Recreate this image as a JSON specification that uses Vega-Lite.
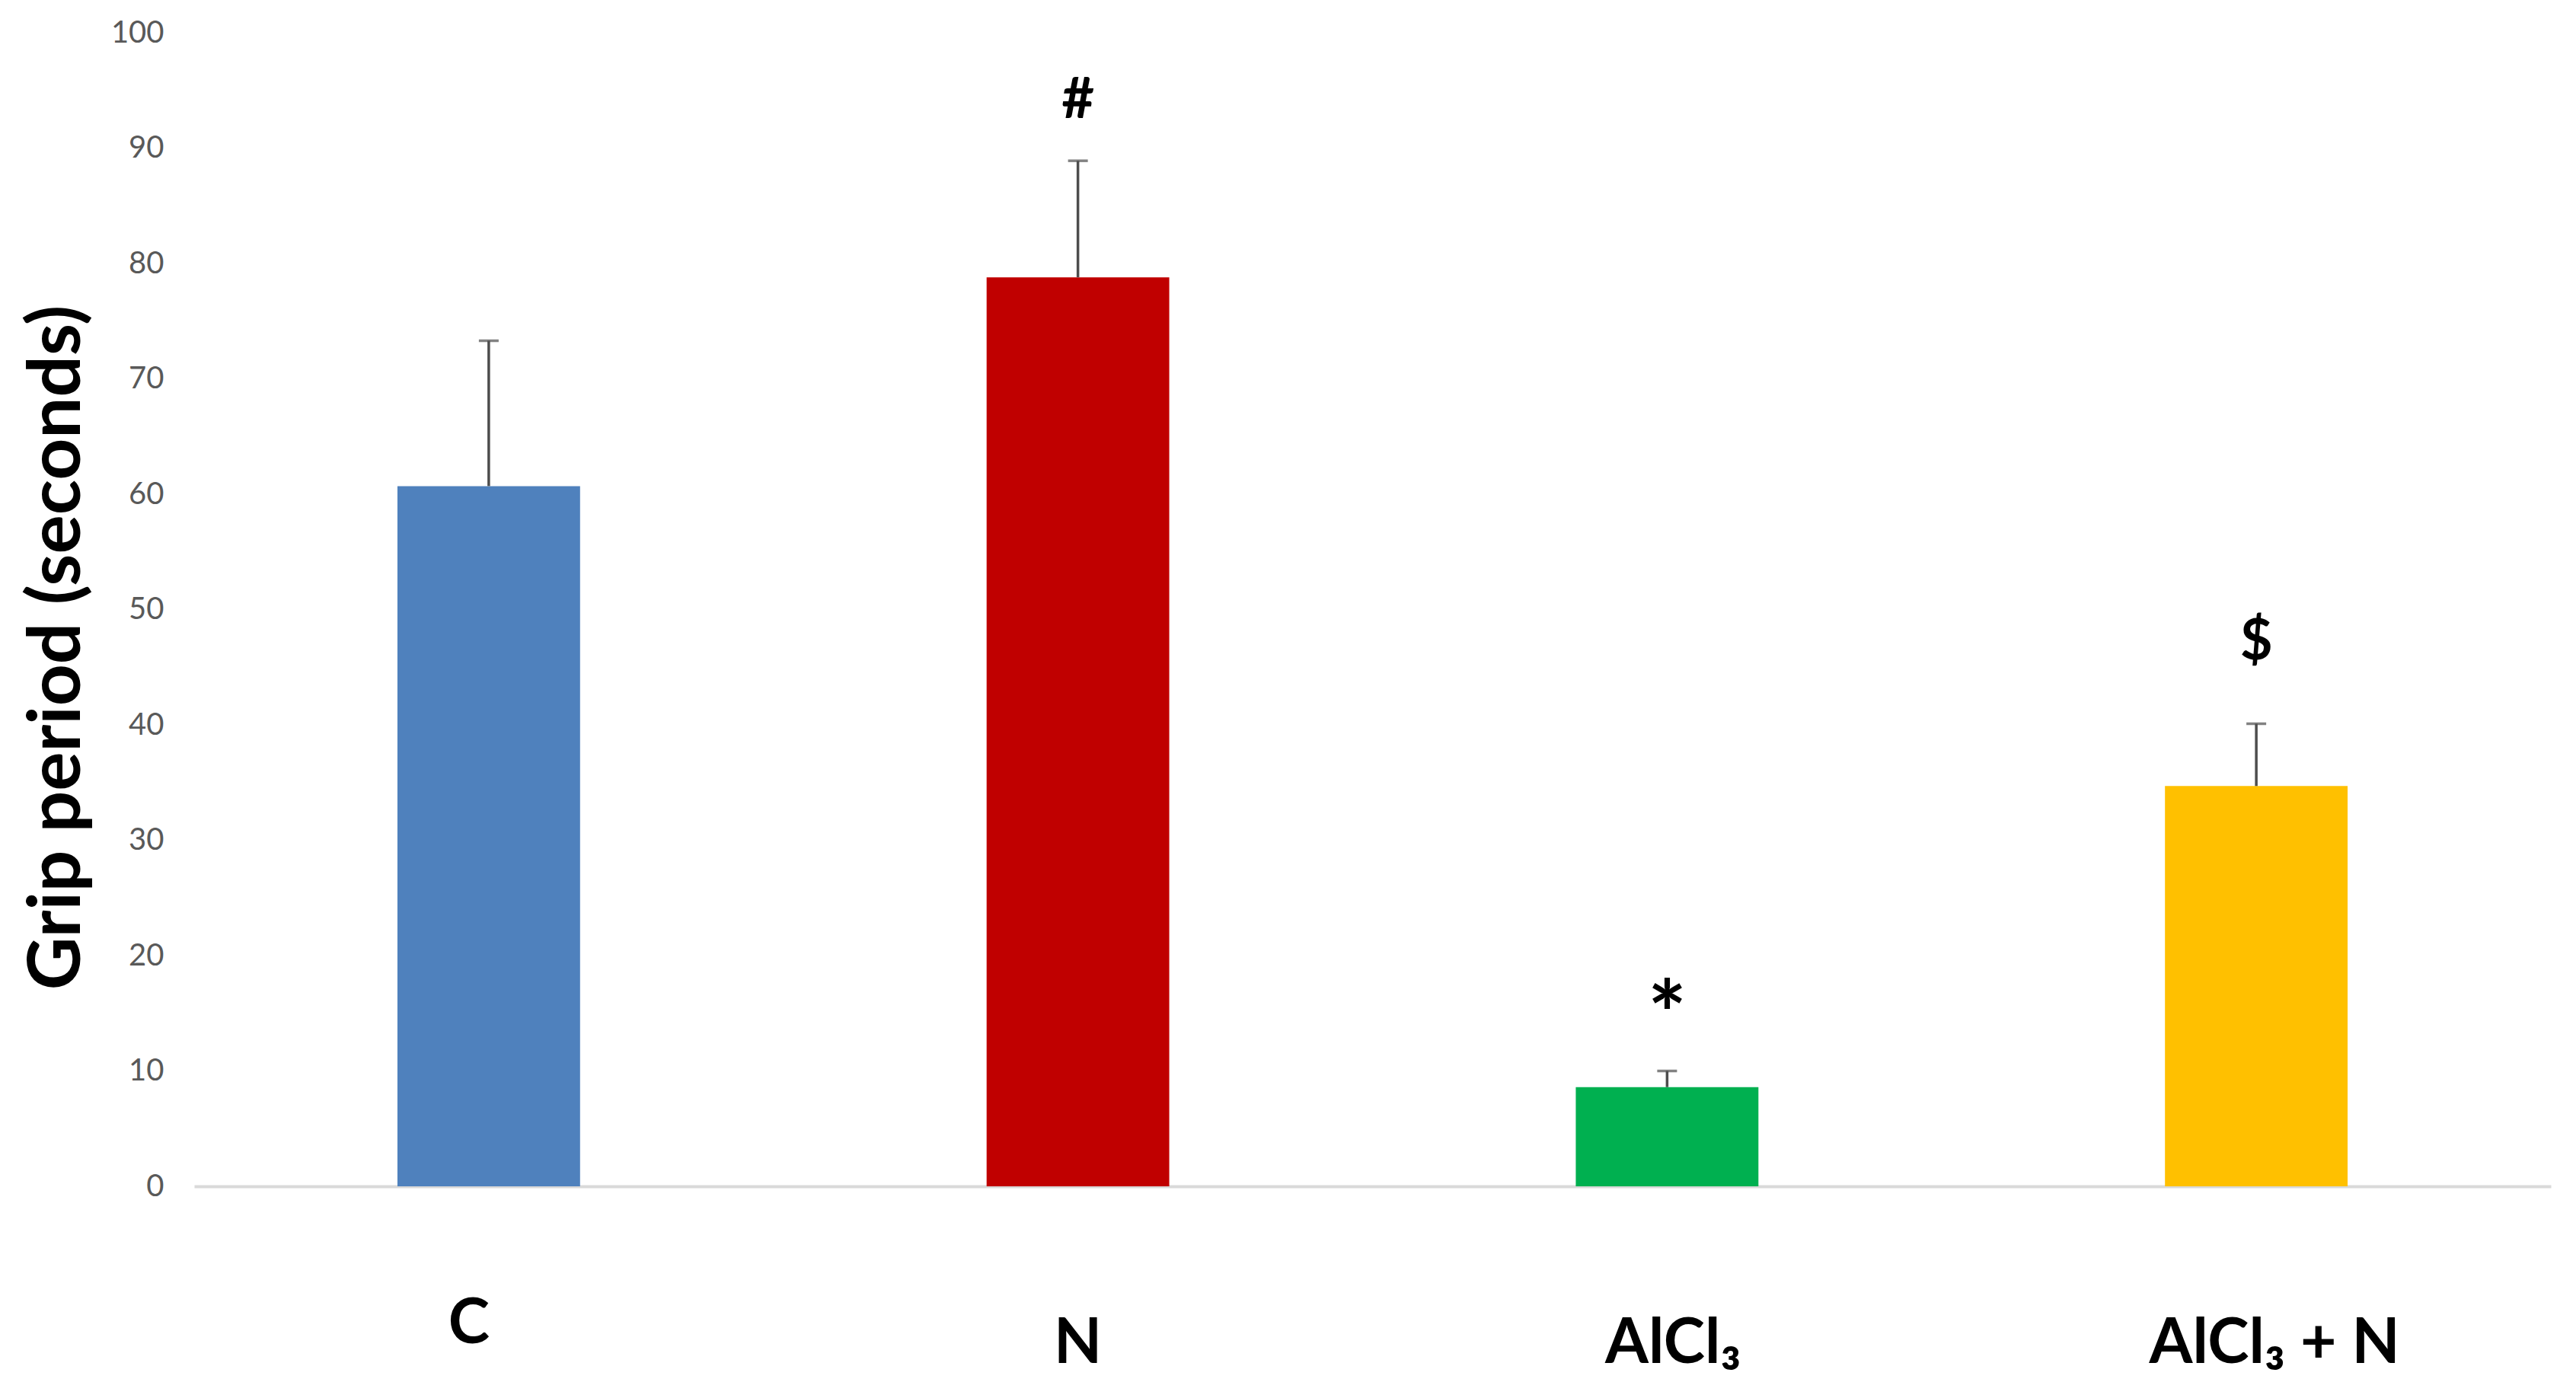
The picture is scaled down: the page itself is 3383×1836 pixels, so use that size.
{
  "$schema": "https://vega.github.io/schema/vega-lite/v6.json",
  "width": 3095,
  "height": 1515,
  "autosize": {"type": "none"},
  "padding": {"left": 255, "top": 43, "right": 33, "bottom": 278},
  "background": "white",
  "config": {
    "view": {"stroke": null},
    "font": "Lato"
  },
  "data": {
    "values": [
      {"group": "C", "value": 60.7, "upper": 73.3, "sig": ""},
      {"group": "N", "value": 78.8, "upper": 88.9, "sig": "#"},
      {"group": "AlCl₃", "value": 8.6, "upper": 10.0, "sig": "*"},
      {"group": "AlCl₃ + N", "value": 34.7, "upper": 40.1, "sig": "$"}
    ]
  },
  "encoding": {
    "x": {
      "field": "group",
      "type": "nominal",
      "sort": null,
      "scale": {"paddingInner": 0.69, "paddingOuter": 0.345},
      "axis": {
        "title": null,
        "labelAngle": 0,
        "labelFont": "Lato",
        "labelFontWeight": "bold",
        "labelFontSize": 82,
        "labelColor": "black",
        "labelPadding": {"condition": {"test": "datum.value === 'C'", "value": 140}, "value": 166},
        "labelOffset": {
          "condition": [
            {"test": "datum.value === 'C'", "value": -26},
            {"test": "datum.value === 'AlCl₃ + N'", "value": 24},
            {"test": "datum.value === 'AlCl₃'", "value": 8}
          ],
          "value": 0
        },
        "labelLimit": 0,
        "ticks": false,
        "domainColor": "#d9d9d9",
        "domainWidth": 4,
        "grid": false
      }
    }
  },
  "layer": [
    {
      "mark": {"type": "bar"},
      "encoding": {
        "y": {
          "field": "value",
          "type": "quantitative",
          "scale": {"domain": [0, 100], "nice": false},
          "axis": {
            "title": "Grip period (seconds)",
            "titleFont": "Lato",
            "titleFontWeight": "bold",
            "titleFontSize": 96,
            "titleColor": "black",
            "titleAngle": 270,
            "titleX": -180,
            "titleY": 807,
            "titleAlign": "center",
            "titleBaseline": "middle",
            "values": [0, 10, 20, 30, 40, 50, 60, 70, 80, 90, 100],
            "labelFont": "Lato",
            "labelFontSize": 40,
            "labelColor": "#595959",
            "labelPadding": 40,
            "ticks": false,
            "domain": false,
            "grid": false
          }
        },
        "color": {
          "field": "group",
          "type": "nominal",
          "sort": null,
          "scale": {"range": ["#4f81bd", "#c00000", "#00b050", "#ffc000"]},
          "legend": null
        }
      }
    },
    {
      "mark": {"type": "rule", "color": "#4d4d4d", "strokeWidth": 3.5},
      "encoding": {
        "y": {"field": "value", "type": "quantitative"},
        "y2": {"field": "upper"}
      }
    },
    {
      "mark": {"type": "tick", "color": "#4d4d4d", "thickness": 3.5, "size": 26, "orient": "horizontal"},
      "encoding": {
        "y": {"field": "upper", "type": "quantitative"}
      }
    },
    {
      "mark": {
        "type": "text",
        "font": "Lato",
        "fontWeight": "bold",
        "color": "black",
        "baseline": "middle",
        "dy": {"expr": "datum.sig === '#' ? -78 : datum.sig === '*' ? -67 : -106"}
      },
      "encoding": {
        "y": {"field": "upper", "type": "quantitative"},
        "text": {"field": "sig"},
        "size": {
          "condition": {"test": "datum.sig === '*'", "value": 120},
          "value": 74
        }
      }
    }
  ]
}
